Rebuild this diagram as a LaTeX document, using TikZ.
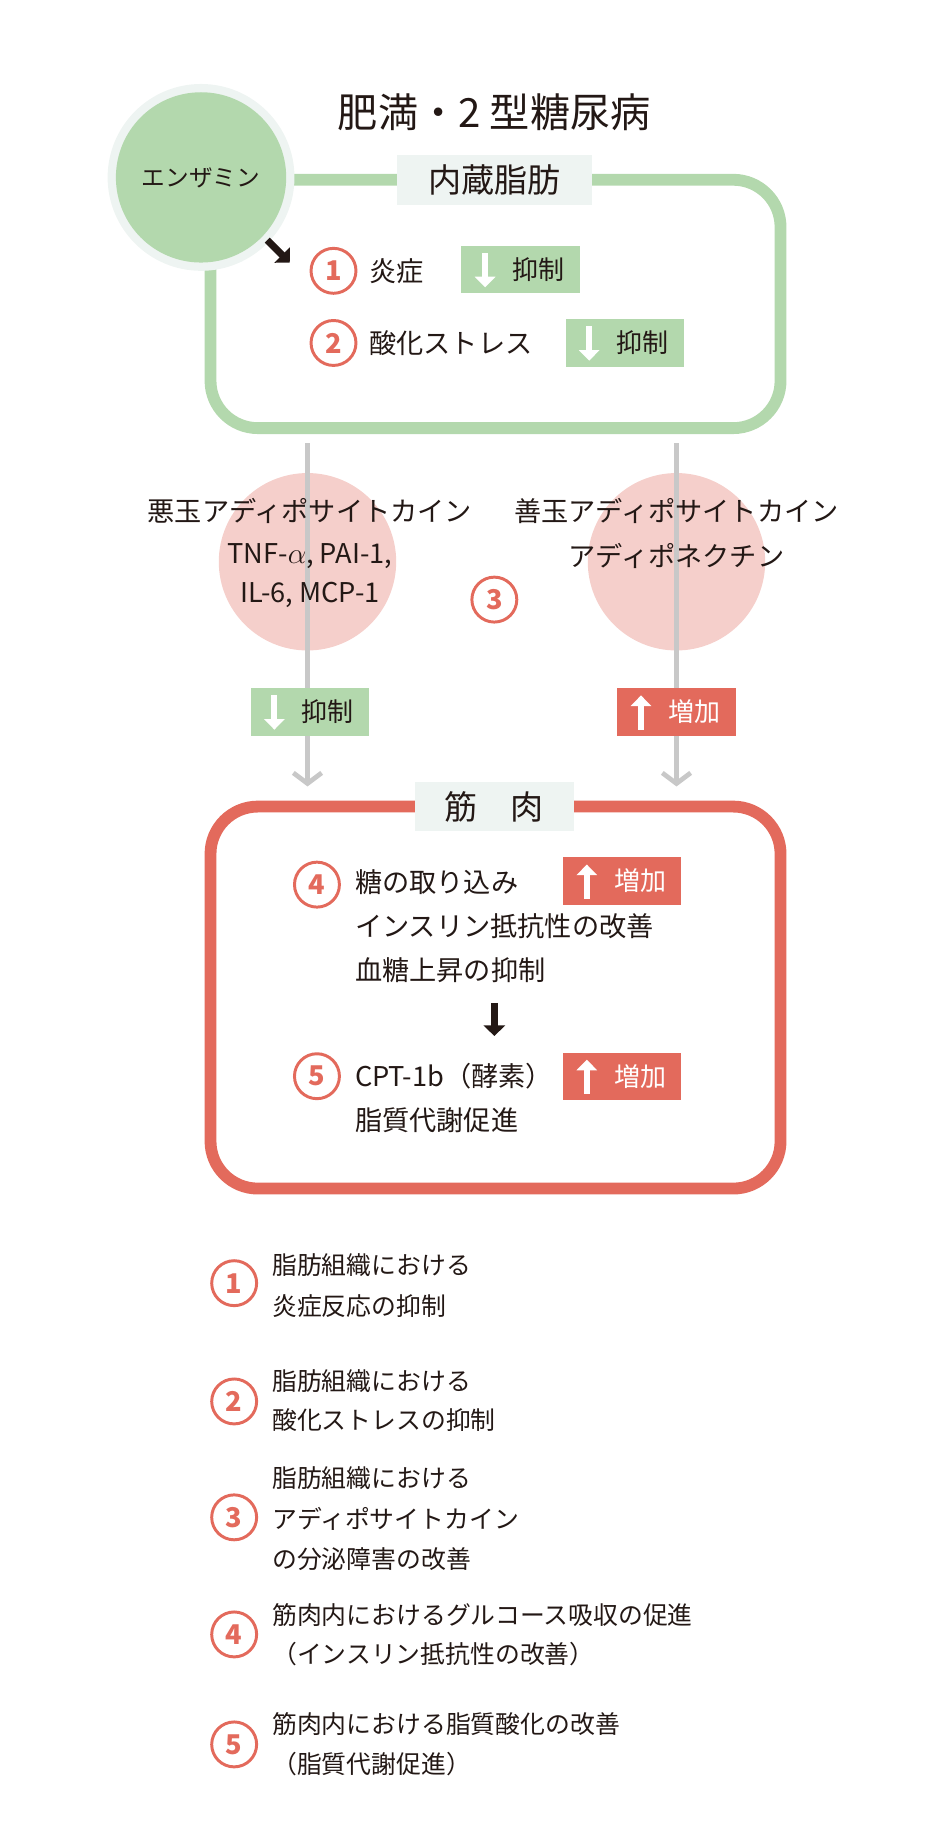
\documentclass[tikz,border=0pt]{standalone}
\usepackage{fontspec}
\setmainfont{Noto Sans CJK JP}
\usetikzlibrary{arrows.meta}
\definecolor{gr}{HTML}{B3D8AD}
\definecolor{rd}{HTML}{E36A5C}
\definecolor{pk}{HTML}{F5CFCB}
\definecolor{lb}{HTML}{EEF4F2}
\definecolor{gy}{HTML}{C8C8C8}
\definecolor{tx}{HTML}{231815}
\newcommand{\fs}[1]{\fontsize{#1pt}{#1pt}\selectfont}
\tikzset{
 num/.style={circle,draw=rd,line width=2.5pt,minimum size=38pt,inner sep=0pt,text=rd,font=\fs{23}\bfseries},
 txt/.style={anchor=west,inner sep=0pt,text=tx,font=\fs{23}},
 ctxt/.style={inner sep=0pt,text=tx,font=\fs{23}},
 tag/.style={minimum width=100pt,minimum height=40pt,inner sep=0pt,text=tx,font=\fs{22}},
 lbl/.style={fill=lb,minimum height=42pt,inner sep=0pt,text=tx,font=\fs{28}},
 wa/.style={white,line width=5pt,-{Triangle[length=9pt,width=17pt]}},
 ba/.style={tx,line width=6pt,-{Triangle[length=9pt,width=18pt]}},
 chev/.style={gy,line width=4pt,-{Straight Barb[length=9pt,width=24pt]}},
}
\begin{document}
\begin{tikzpicture}[x=1pt,y=-1pt]
\useasboundingbox (0,0) rectangle (800,1544);
\coordinate (l1t) at (260,375); \coordinate (l1b) at (260,665);
\coordinate (l2t) at (572,375); \coordinate (l2b) at (572,665);
\node[circle,fill=pk,minimum size=150pt] (p1) at (260,475) {};
\node[circle,fill=pk,minimum size=150pt] (p2) at (572,475) {};
\draw[chev] (l1t) -- (l1b);
\draw[chev] (l2t) -- (l2b);
\node[ctxt,font=\fs{34}] (title) at (418,95) {肥満・2 型糖尿病};
\draw[gr,line width=10pt,rounded corners=40pt] (178,152) rectangle (660,362);
\node[lbl,minimum width=165pt] (vf) at (418,152) {内蔵脂肪};
\node[circle,fill=lb,minimum size=158pt] (enr) at (170,150) {};
\node[circle,fill=gr,minimum size=144pt,text=tx,font=\fs{20}] (en) at (170,150) {エンザミン};
\coordinate (ba1) at (226,203); \coordinate (ba2) at (245,222);
\draw[ba] (ba1) -- (ba2);
\node[num] (n1) at (282,229) {1};
\node[txt] (t1) at (312,229) {炎症};
\node[tag,fill=gr,anchor=west] (s1) at (390,228) {\hspace*{30pt}抑制};
\coordinate (a1t) at ([xshift=-30pt,yshift=14pt]s1.center); \coordinate (a1b) at ([xshift=-30pt,yshift=-15pt]s1.center);
\draw[wa] (a1t) -- (a1b);
\node[num] (n2) at (282,290) {2};
\node[txt] (t2) at (312,290) {酸化ストレス};
\node[tag,fill=gr,anchor=west] (s2) at (478,290) {\hspace*{30pt}抑制};
\coordinate (a2t) at ([xshift=-30pt,yshift=14pt]s2.center); \coordinate (a2b) at ([xshift=-30pt,yshift=-15pt]s2.center);
\draw[wa] (a2t) -- (a2b);
\node[ctxt] (bad1) at (262,432) {悪玉アディポサイトカイン};
\node[ctxt] (bad2) at (262,470) {TNF-$\alpha$, PAI-1,};
\node[ctxt] (bad3) at (262,503) {IL-6, MCP-1};
\node[ctxt] (good1) at (572,432) {善玉アディポサイトカイン};
\node[ctxt] (good2) at (572,470) {アディポネクチン};
\node[num] (n3) at (418,507) {3};
\node[tag,fill=gr] (s3) at (262,602) {\hspace*{30pt}抑制};
\coordinate (a3t) at ([xshift=-30pt,yshift=14pt]s3.center); \coordinate (a3b) at ([xshift=-30pt,yshift=-15pt]s3.center);
\draw[wa] (a3t) -- (a3b);
\node[tag,fill=rd,text=white] (u3) at (572,602) {\hspace*{30pt}増加};
\coordinate (b3t) at ([xshift=-30pt,yshift=-15pt]u3.center); \coordinate (b3b) at ([xshift=-30pt,yshift=14pt]u3.center);
\draw[wa] (b3t) -- (b3b);
\draw[rd,line width=10pt,rounded corners=40pt] (178,682) rectangle (660,1005);
\node[lbl,minimum width=135pt] (mu) at (418,682) {筋　肉};
\node[num] (n4) at (268,748) {4};
\node[txt] (t4a) at (300,746) {糖の取り込み};
\node[txt] (t4b) at (300,783) {インスリン抵抗性の改善};
\node[txt] (t4c) at (300,820) {血糖上昇の抑制};
\node[tag,fill=rd,text=white,anchor=west] (u4) at (476,745) {\hspace*{30pt}増加};
\coordinate (b4t) at ([xshift=-30pt,yshift=-15pt]u4.center); \coordinate (b4b) at ([xshift=-30pt,yshift=14pt]u4.center);
\draw[wa] (b4t) -- (b4b);
\coordinate (da1) at (418,848); \coordinate (da2) at (418,876);
\draw[ba] (da1) -- (da2);
\node[num] (n5) at (268,910) {5};
\node[txt] (t5a) at (300,910) {CPT-1b（酵素）};
\node[txt] (t5b) at (300,947) {脂質代謝促進};
\node[tag,fill=rd,text=white,anchor=west] (u5) at (476,910) {\hspace*{30pt}増加};
\coordinate (b5t) at ([xshift=-30pt,yshift=-15pt]u5.center); \coordinate (b5b) at ([xshift=-30pt,yshift=14pt]u5.center);
\draw[wa] (b5t) -- (b5b);
\tikzset{lt/.style={txt,font=\fs{21}}}
\node[num] (L1) at (198,1085) {1};
\node[lt] (L1a) at (230,1070) {脂肪組織における};
\node[lt] (L1b) at (230,1104) {炎症反応の抑制};
\node[num] (L2) at (198,1185) {2};
\node[lt] (L2a) at (230,1168) {脂肪組織における};
\node[lt] (L2b) at (230,1201) {酸化ストレスの抑制};
\node[num] (L3) at (198,1283) {3};
\node[lt] (L3a) at (230,1250) {脂肪組織における};
\node[lt] (L3b) at (230,1284) {アディポサイトカイン};
\node[lt] (L3c) at (230,1318) {の分泌障害の改善};
\node[num] (L4) at (198,1382) {4};
\node[lt] (L4a) at (230,1366) {筋肉内におけるグルコース吸収の促進};
\node[lt] (L4b) at (230,1399) {（インスリン抵抗性の改善）};
\node[num] (L5) at (198,1475) {5};
\node[lt] (L5a) at (230,1458) {筋肉内における脂質酸化の改善};
\node[lt] (L5b) at (230,1492) {（脂質代謝促進）};
\end{tikzpicture}
\end{document}
